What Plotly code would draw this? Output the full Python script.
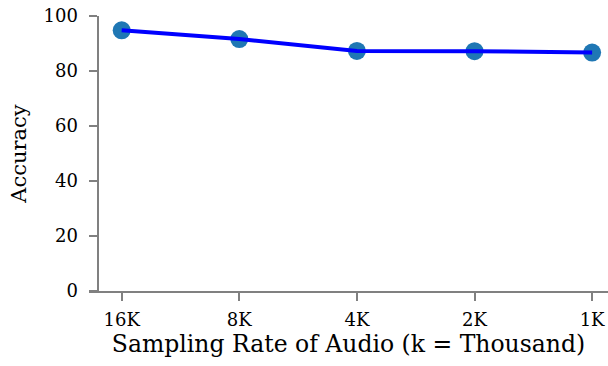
import plotly.graph_objects as go

categories = ["16K", "8K", "4K", "2K", "1K"]
accuracy = [94.8, 91.6, 87.3, 87.2, 86.7]
y_ticks = [0, 20, 40, 60, 80, 100]

font_family = "DejaVu Serif"
axis_gray = "#808080"

fig = go.Figure()
fig.add_trace(go.Scatter(
    x=list(range(len(categories))), y=accuracy, mode="markers",
    marker=dict(size=18, color="#1f77b4"), showlegend=False, hoverinfo="skip"))
fig.add_trace(go.Scatter(
    x=list(range(len(categories))), y=accuracy, mode="lines",
    line=dict(color="#0000ff", width=4), showlegend=False))

fig.update_layout(
    width=608, height=366,
    margin=dict(l=89, r=0, t=16, b=75),
    paper_bgcolor="white", plot_bgcolor="white",
    font=dict(family=font_family, size=18, color="black"),
    xaxis=dict(
        range=[-0.278, 4.135],
        tickmode="array", tickvals=list(range(len(categories))), ticktext=categories,
        showgrid=False, zeroline=False,
        showline=True, linecolor=axis_gray, linewidth=1.6,
        ticks="outside", ticklen=8, tickwidth=1.6, tickcolor=axis_gray,
        ticklabelstandoff=4,
        title=dict(text="Sampling Rate of Audio (k = Thousand)", font=dict(size=23.5), standoff=2),
    ),
    yaxis=dict(
        range=[0, 100], anchor="free", position=0.0179,
        tickmode="array", tickvals=y_ticks,
        showgrid=False, zeroline=False,
        showline=True, linecolor=axis_gray, linewidth=1.6,
        ticks="outside", ticklen=8, tickwidth=1.6, tickcolor=axis_gray,
        ticklabelstandoff=8,
        title=dict(text="Accuracy", font=dict(size=21), standoff=10),
    ),
)

fig.write_html("out.html")
